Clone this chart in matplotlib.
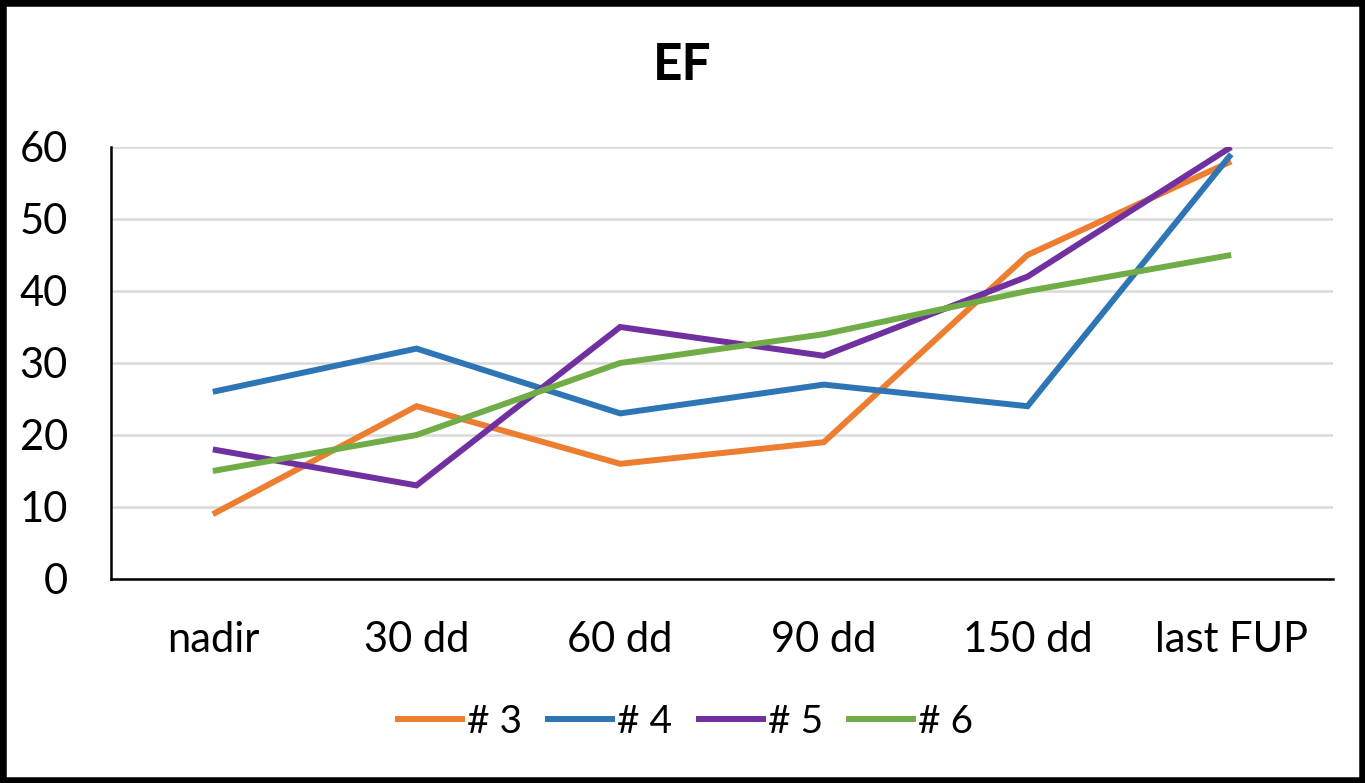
import matplotlib
matplotlib.use("Agg")
import matplotlib.pyplot as plt
from matplotlib.patches import Rectangle

plt.rcParams['font.family'] = ['Lato', 'DejaVu Sans']

categories = ["nadir", "30 dd", "60 dd", "90 dd", "150 dd", "last FUP"]
series_names = ["# 3", "# 4", "# 5", "# 6"]
ef_3 = [9, 24, 16, 19, 45, 58]
ef_4 = [26, 32, 23, 27, 24, 59]
ef_5 = [18, 13, 35, 31, 42, 60]
ef_6 = [15, 20, 30, 34, 40, 45]
y_ticks = [0, 10, 20, 30, 40, 50, 60]

colors = ["#ED7D31", "#2E75B6", "#7030A0", "#70AD47"]

W, H = 1365, 783
fig = plt.figure(figsize=(W / 100, H / 100), dpi=100)
ax = fig.add_axes([111 / W, (H - 579) / H, (1333 - 111) / W, (579 - 147) / H])

x = list(range(len(categories)))
for vals, name, c in zip([ef_3, ef_4, ef_5, ef_6], series_names, colors):
    ax.plot(x, vals, color=c, lw=4.3, label=name, solid_capstyle="butt",
            solid_joinstyle="miter", zorder=3)

ax.set_xlim(-0.5, len(categories) - 0.5)
ax.set_ylim(0, 60)
ax.set_yticks(y_ticks)
ax.set_xticks(x)
ax.set_xticklabels(categories)
ax.tick_params(axis="both", length=0, labelsize=30)
ax.tick_params(axis="y", pad=31)
ax.tick_params(axis="x", pad=30)
ax.yaxis.grid(True, color="#d9d9d9", lw=1.8, zorder=0)
ax.set_axisbelow(True)
for s in ["top", "right"]:
    ax.spines[s].set_visible(False)
for s in ["left", "bottom"]:
    ax.spines[s].set_color("black")
    ax.spines[s].set_linewidth(1.8)

fig.text(682 / W, 1 - 65 / H, "EF", ha="center", va="center",
         fontsize=37, fontweight="bold")

fig.legend(loc="center", bbox_to_anchor=(684 / W, 1 - 722 / H), ncol=4,
           frameon=False, fontsize=28, handlelength=1.8, handletextpad=0.05,
           columnspacing=0.6)

fig.patches.append(Rectangle((0, 0), 1, 1, transform=fig.transFigure,
                             fill=False, edgecolor="black", lw=9,
                             clip_on=False))

fig.savefig("out.png", dpi=100)
